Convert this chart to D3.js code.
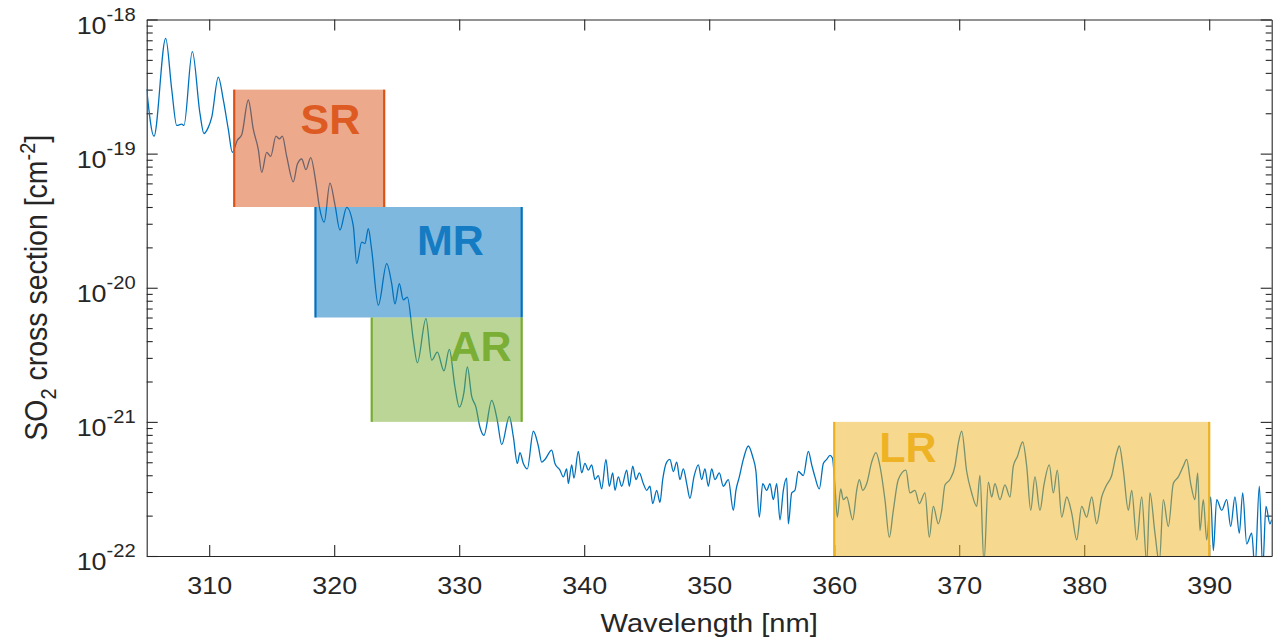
<!DOCTYPE html>
<html>
<head>
<meta charset="utf-8">
<script src="https://cdn.jsdelivr.net/npm/d3@7"></script>
<style>
  body { margin: 0; background: #fff; }
  svg { font-family: "Liberation Sans", Arial, Helvetica, sans-serif; }
</style>
</head>
<body>
<svg width="1281" height="641"></svg>
<script>
// SO2 absorption cross section, [wavelength nm, log10(sigma / cm^2)]
const spectrum = [
  [305.00,-18.52],[305.58,-18.87],[306.52,-18.14],[307.00,-18.52],[307.40,-18.79],[307.80,-18.78],[307.98,-18.79],
  [308.65,-18.24],[309.26,-18.70],[309.58,-18.85],[309.90,-18.81],[310.20,-18.73],[310.73,-18.43],[311.13,-18.60],
  [311.53,-18.82],[311.85,-18.99],[312.25,-18.90],[312.60,-18.86],[313.13,-18.60],[313.53,-18.82],[313.93,-18.97],
  [314.20,-19.14],[314.60,-18.99],[314.92,-19.02],[315.34,-18.87],[315.61,-18.89],[315.85,-18.87],[316.20,-19.02],
  [316.73,-19.21],[317.05,-19.08],[317.40,-19.04],[317.74,-19.12],[318.12,-19.03],[318.54,-19.22],[318.82,-19.40],
  [319.20,-19.51],[319.66,-19.22],[320.06,-19.38],[320.46,-19.57],[321.00,-19.40],[321.53,-19.54],[321.80,-19.82],
  [322.20,-19.66],[322.46,-19.67],[322.73,-19.56],[323.00,-19.72],[323.53,-20.13],[324.20,-19.82],[324.60,-19.97],
  [324.86,-20.12],[325.21,-19.97],[325.53,-20.09],[325.85,-20.07],[326.33,-20.39],[326.65,-20.56],[327.34,-20.23],
  [327.80,-20.54],[328.25,-20.48],[328.78,-20.62],[329.21,-20.46],[329.66,-20.74],[330.01,-20.89],[330.38,-20.78],
  [330.65,-20.59],[331.00,-20.81],[331.34,-20.89],[331.66,-21.04],[331.98,-21.10],[332.60,-20.84],[333.05,-20.99],
  [333.40,-21.17],[334.01,-20.96],[334.33,-21.11],[334.65,-21.31],[334.86,-21.23],[335.13,-21.31],[335.45,-21.35],
  [335.93,-21.07],[336.33,-21.18],[336.60,-21.30],[336.86,-21.28],[337.40,-21.21],[337.66,-21.31],[338.06,-21.36],
  [338.33,-21.41],[338.60,-21.35],[338.73,-21.46],[339.00,-21.32],[339.18,-21.42],[339.53,-21.22],[339.80,-21.38],
  [340.06,-21.31],[340.33,-21.36],[340.60,-21.32],[340.86,-21.43],[341.13,-21.40],[341.40,-21.50],[341.74,-21.28],
  [342.01,-21.48],[342.28,-21.38],[342.46,-21.51],[342.73,-21.41],[343.00,-21.48],[343.40,-21.36],[343.61,-21.48],
  [343.88,-21.33],[344.14,-21.43],[344.41,-21.38],[344.73,-21.46],[345.00,-21.51],[345.26,-21.48],[345.48,-21.61],
  [345.80,-21.51],[346.06,-21.60],[346.28,-21.43],[346.60,-21.30],[346.86,-21.28],[347.13,-21.37],[347.40,-21.30],
  [347.66,-21.43],[347.93,-21.35],[348.20,-21.46],[348.46,-21.57],[348.78,-21.41],[349.13,-21.32],[349.40,-21.43],
  [349.66,-21.35],[349.93,-21.48],[350.20,-21.35],[350.46,-21.43],[350.81,-21.38],[351.13,-21.48],[351.53,-21.43],
  [351.93,-21.66],[352.14,-21.51],[352.41,-21.41],[352.73,-21.28],[353.13,-21.18],[353.48,-21.26],[353.74,-21.37],
  [354.01,-21.71],[354.28,-21.46],[354.60,-21.51],[354.86,-21.46],[355.13,-21.58],[355.40,-21.46],[355.66,-21.73],
  [355.93,-21.51],[356.20,-21.42],[356.33,-21.76],[356.60,-21.53],[356.86,-21.51],[357.13,-21.37],[357.53,-21.40],
  [357.93,-21.22],[358.20,-21.32],[358.46,-21.41],[358.81,-21.50],[359.13,-21.31],[359.40,-21.28],[359.66,-21.25],
  [359.86,-21.27],[360.06,-21.48],[360.25,-21.71],[360.52,-21.50],[360.73,-21.58],[361.00,-21.56],[361.48,-21.73],
  [361.80,-21.51],[362.01,-21.43],[362.28,-21.51],[362.60,-21.46],[363.00,-21.30],[363.34,-21.23],[363.66,-21.33],
  [364.06,-21.58],[364.41,-21.86],[364.73,-21.66],[365.13,-21.43],[365.74,-21.36],[366.06,-21.53],[366.46,-21.51],
  [366.81,-21.61],[367.26,-21.53],[367.61,-21.86],[367.93,-21.63],[368.33,-21.76],[368.60,-21.66],[368.86,-21.47],
  [369.26,-21.43],[369.66,-21.33],[369.93,-21.16],[370.20,-21.07],[370.60,-21.37],[371.00,-21.53],[371.40,-21.63],
  [371.66,-21.40],[371.98,-22.05],[372.33,-21.45],[372.60,-21.56],[372.86,-21.46],[373.26,-21.58],[373.66,-21.47],
  [374.06,-21.56],[374.33,-21.33],[374.65,-21.26],[375.08,-21.15],[375.40,-21.33],[375.72,-21.66],[376.06,-21.41],
  [376.46,-21.66],[376.78,-21.47],[377.21,-21.32],[377.53,-21.53],[377.85,-21.36],[378.20,-21.71],[378.60,-21.56],
  [379.00,-21.68],[379.40,-21.88],[379.80,-21.63],[380.20,-21.71],[380.60,-21.56],[381.00,-21.76],[381.40,-21.56],
  [381.74,-21.48],[382.20,-21.40],[382.60,-21.23],[382.81,-21.18],[383.13,-21.36],[383.53,-21.66],[383.80,-21.51],
  [384.20,-21.88],[384.60,-21.56],[385.00,-22.05],[385.26,-21.53],[385.66,-21.83],[386.01,-22.05],[386.33,-21.58],
  [386.73,-21.78],[387.13,-21.46],[387.53,-21.41],[387.93,-21.33],[388.20,-21.28],[388.52,-21.46],[388.86,-21.58],
  [389.08,-21.38],[389.26,-21.81],[389.53,-21.58],[389.80,-21.88],[390.12,-21.56],[390.33,-21.96],[390.60,-21.58],
  [391.00,-21.66],[391.40,-21.58],[391.72,-21.78],[392.06,-21.56],[392.41,-21.83],[392.68,-21.53],[393.00,-21.91],
  [393.40,-21.83],[393.66,-22.10],[394.01,-21.48],[394.28,-22.10],[394.54,-21.63],[394.86,-21.76],[395.00,-21.73]
];

// fitting windows
const regionNames = ['SR', 'MR', 'AR', 'LR'];
const regionStart = [312, 318.5, 323, 360];
const regionEnd = [324, 335, 335, 390];
const regionLow = [4e-20, 6e-21, 1e-21, 1e-22];
const regionHigh = [3e-19, 4e-20, 6e-21, 1e-21];
const regionLabelX = [319.7, 329.3, 331.7, 365.9];
const regionLabelY = [1.82e-19, 2.29e-20, 3.7e-21, 6.5e-22];

const xTicks = [310, 320, 330, 340, 350, 360, 370, 380, 390];
const yTicks = [1e-22, 1e-21, 1e-20, 1e-19, 1e-18];

const regionColor = ['#D95319', '#0072BD', '#77AC30', '#EDB120'];
const labelColor = ['#E0622A', '#2A86C8', '#7DB03A', '#EEB42A'];
const axisColor = '#262626';
const stretch = 1.12; // the figure's lettering is a little wide

const margin = { left: 146.7, top: 19.5, right: 9.3, bottom: 85 };
const W = 1281 - margin.left - margin.right;
const H = 641 - margin.top - margin.bottom;

const svg = d3.select('svg');
const g = svg.append('g').attr('transform', `translate(${margin.left},${margin.top})`);

const x = d3.scaleLinear().domain([305, 395]).range([0, W]);
const y = d3.scaleLog().domain([1e-22, 1e-18]).range([H, 0]);

const minorTicks = [];
for (let k = -22; k < -18; k++) {
  for (let m = 2; m < 10; m++) minorTicks.push(m * Math.pow(10, k));
}

// axes (drawn first, the shaded windows sit over them)
const styleAxis = sel => {
  sel.selectAll('path, line').attr('stroke', axisColor).attr('stroke-width', 1.1);
  sel.selectAll('text').attr('fill', axisColor);
};

g.append('g')
  .attr('transform', `translate(0,${H})`)
  .call(d3.axisBottom(x).tickValues(xTicks).tickSizeInner(-11).tickSizeOuter(0).tickPadding(21))
  .call(styleAxis)
  .selectAll('text')
  .attr('font-size', 24)
  .attr('transform', `scale(${stretch},1)`);

g.append('g')
  .call(d3.axisTop(x).tickValues(xTicks).tickSizeInner(-11).tickSizeOuter(0).tickFormat(''))
  .call(styleAxis);

const yLeft = g.append('g')
  .call(d3.axisLeft(y).tickValues(yTicks).tickSizeInner(-11).tickSizeOuter(0).tickPadding(11))
  .call(styleAxis);

yLeft.selectAll('.tick text')
  .text(null)
  .attr('font-size', 24)
  .attr('dy', '0.58em')
  .attr('transform', `translate(-11,0) scale(${stretch},1) translate(11,0)`)
  .each(function (d) {
    const t = d3.select(this);
    t.append('tspan').text('10');
    t.append('tspan').attr('dy', -13).attr('font-size', 18).text(Math.round(Math.log10(d)));
  });

g.append('g')
  .call(d3.axisLeft(y).tickValues(minorTicks).tickSizeInner(-6).tickSizeOuter(0).tickFormat(''))
  .call(styleAxis)
  .select('.domain').remove();

g.append('g')
  .attr('transform', `translate(${W},0)`)
  .call(d3.axisRight(y).tickValues(yTicks).tickSizeInner(-11).tickSizeOuter(0).tickFormat(''))
  .call(styleAxis);

g.append('g')
  .attr('transform', `translate(${W},0)`)
  .call(d3.axisRight(y).tickValues(minorTicks).tickSizeInner(-6).tickSizeOuter(0).tickFormat(''))
  .call(styleAxis)
  .select('.domain').remove();

// spectrum
g.append('clipPath').attr('id', 'plotArea')
  .append('rect').attr('width', W).attr('height', H);

const line = d3.line()
  .x(d => x(d[0]))
  .y(d => y(Math.pow(10, d[1])))
  .curve(d3.curveMonotoneX);

g.append('path')
  .datum(spectrum)
  .attr('clip-path', 'url(#plotArea)')
  .attr('fill', 'none')
  .attr('stroke', '#0072BD')
  .attr('stroke-width', 1.3)
  .attr('stroke-linejoin', 'round')
  .attr('d', line);

// fitting windows
const regions = regionNames.map((name, i) => ({
  name, i,
  x0: regionStart[i], x1: regionEnd[i],
  lo: regionLow[i], hi: regionHigh[i]
}));

const win = g.append('g').selectAll('g')
  .data(regions)
  .join('g');

win.append('text')
  .attr('x', d => x(regionLabelX[d.i]))
  .attr('y', d => y(regionLabelY[d.i]))
  .attr('dy', '0.36em')
  .attr('text-anchor', 'middle')
  .attr('font-size', 43)
  .attr('font-weight', 'bold')
  .attr('fill', d => labelColor[d.i])
  .text(d => d.name);

win.append('rect')
  .attr('x', d => x(d.x0))
  .attr('y', d => y(d.hi))
  .attr('width', d => x(d.x1) - x(d.x0))
  .attr('height', d => y(d.lo) - y(d.hi))
  .attr('fill', d => regionColor[d.i])
  .attr('fill-opacity', 0.5);

win.selectAll('line')
  .data(d => [d.x0, d.x1].map(v => ({ v, d })))
  .join('line')
  .attr('x1', e => x(e.v))
  .attr('x2', e => x(e.v))
  .attr('y1', e => y(e.d.hi))
  .attr('y2', e => y(e.d.lo))
  .attr('stroke', e => regionColor[e.d.i])
  .attr('stroke-width', 2.2);

// axis titles
svg.append('text')
  .attr('transform', `translate(${margin.left + W / 2},632) scale(${stretch},1)`)
  .attr('text-anchor', 'middle')
  .attr('font-size', 26)
  .attr('fill', axisColor)
  .text('Wavelength [nm]');

const yTitle = svg.append('text')
  .attr('transform', `translate(47,${margin.top + H / 2}) scale(${stretch},1) rotate(-90)`)
  .attr('text-anchor', 'middle')
  .attr('font-size', 28.5)
  .attr('fill', axisColor);
yTitle.append('tspan').text('SO');
yTitle.append('tspan').attr('dy', 8).attr('font-size', 20).text('2');
yTitle.append('tspan').attr('dy', -8).text(' cross section [cm');
yTitle.append('tspan').attr('dy', -11).attr('font-size', 20).text('-2');
yTitle.append('tspan').attr('dy', 11).text(']');
</script>
</body>
</html>
